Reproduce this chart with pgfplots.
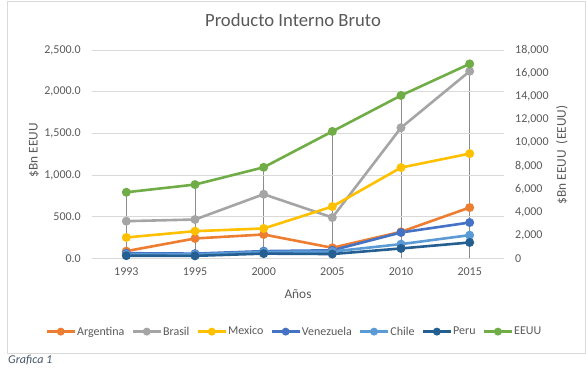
\documentclass[border=0pt]{standalone}
\usepackage{pgfplots}
\pgfplotsset{compat=1.18}
\usepackage{fontspec}
\setmainfont{Carlito}
\definecolor{cArg}{HTML}{ED7D31}
\definecolor{cBra}{HTML}{A5A5A5}
\definecolor{cMex}{HTML}{FFC000}
\definecolor{cVen}{HTML}{4472C4}
\definecolor{cChi}{HTML}{5B9BD5}
\definecolor{cPer}{HTML}{255E91}
\definecolor{cUSA}{HTML}{70AD47}
\definecolor{txt}{HTML}{595959}
\definecolor{gridc}{HTML}{D9D9D9}
\definecolor{capc}{HTML}{44546A}
\pgfplotsset{
  common/.style={
    at={(92pt,115.8pt)}, anchor=south west, scale only axis,
    width=412pt, height=208pt,
    xmin=-0.5, xmax=5.5,
    major tick length=0pt,
    scaled y ticks=false,
    ticklabel style={font=\fontsize{12}{14}\selectfont, text=txt, inner sep=0pt},
    /pgf/number format/assume math mode=true,
  },
  ser/.style={line width=2.6pt, mark=*, mark size=3.1pt, mark options={solid}},
}
\begin{document}
\begin{tikzpicture}[x=1pt,y=1pt]
\path[use as bounding box] (0,0) rectangle (586,374);
\draw[gridc, line width=0.8pt] (7.5,21) rectangle (585,373);
\node[text=txt, font=\fontsize{18.67}{22}\selectfont] at (293,354) {Producto Interno Bruto};
\node[text=capc, font=\fontsize{12}{14}\selectfont\itshape, anchor=west, inner sep=0pt] at (8,14) {Grafica 1};

% right axis: labels and drop lines
\begin{axis}[common,
  axis x line=none, axis y line*=right, y axis line style={draw=none},
  ymin=0, ymax=18000, ytick distance=2000,
  yticklabel style={anchor=west, xshift=11pt},
  /pgf/number format/.cd, fixed, 1000 sep={,}]
\addplot[ycomb, color=cBra!85!black, line width=0.9pt, mark=none] coordinates {
(0,5706) (1,6371) (2,7865) (3,10973) (4,14081) (5,16817)};
\end{axis}

% left axis: six series
\begin{axis}[common,
  axis line style={draw=none},
  ymin=0, ymax=2500, ytick distance=500,
  ymajorgrids, grid style={gridc, line width=0.8pt},
  xtick={0,...,5}, xticklabels={1993,1995,2000,2005,2010,2015},
  xticklabel style={anchor=north, yshift=-9pt},
  yticklabel style={anchor=east, xshift=-11pt},
  yticklabel={\pgfmathprintnumber[fixed, fixed zerofill, precision=1, 1000 sep={,}]{\tick}},
  legend columns=7,
  legend style={at={(0.49,-0.353)}, anchor=center, draw=none, fill=none,
    font=\fontsize{12}{14}\selectfont, text=txt,
    column sep=0pt, nodes={inner sep=1pt},
    /tikz/every even column/.append style={column sep=6pt}},
  legend image code/.code={\draw[#1, line width=2.6pt, mark size=2.6pt] plot[mark repeat=2, mark phase=2] coordinates {(0pt,0pt) (14pt,0pt) (28pt,0pt)};},
]
\addplot[ser, color=cArg] coordinates {(0,85) (1,237) (2,285) (3,125) (4,317) (5,609)};
\addlegendentry{Argentina}
\addplot[ser, color=cBra] coordinates {(0,445) (1,465) (2,769) (3,489) (4,1568) (5,2247)};
\addlegendentry{Brasil}
\addplot[ser, color=cMex] coordinates {(0,249) (1,325) (2,357) (3,621) (4,1089) (5,1257)};
\addlegendentry{Mexico}
\addplot[ser, color=cVen] coordinates {(0,60) (1,55) (2,85) (3,95) (4,309) (5,429)};
\addlegendentry{Venezuela}
\addplot[ser, color=cChi] coordinates {(0,45) (1,45) (2,75) (3,80) (4,169) (5,277)};
\addlegendentry{Chile}
\addplot[ser, color=cPer] coordinates {(0,30) (1,28) (2,55) (3,50) (4,117) (5,189)};
\addlegendentry{Peru}
\addlegendimage{ser, color=cUSA}
\addlegendentry{EEUU}
\end{axis}

% right axis: EEUU series
\begin{axis}[common, axis lines=none, ticks=none,
  ymin=0, ymax=18000]
\addplot[ser, color=cUSA] coordinates {(0,5706) (1,6371) (2,7865) (3,10973) (4,14081) (5,16817)};
\end{axis}

\node[text=txt, font=\fontsize{13.33}{16}\selectfont] at (298,80) {Años};
\node[text=txt, font=\fontsize{13.33}{16}\selectfont, rotate=90] at (34,224) {\$Bn EEUU};
\node[text=txt, font=\fontsize{13.33}{16}\selectfont, rotate=90] at (562,219) {\$Bn EEUU\ \ (EEUU)};
\end{tikzpicture}
\end{document}
